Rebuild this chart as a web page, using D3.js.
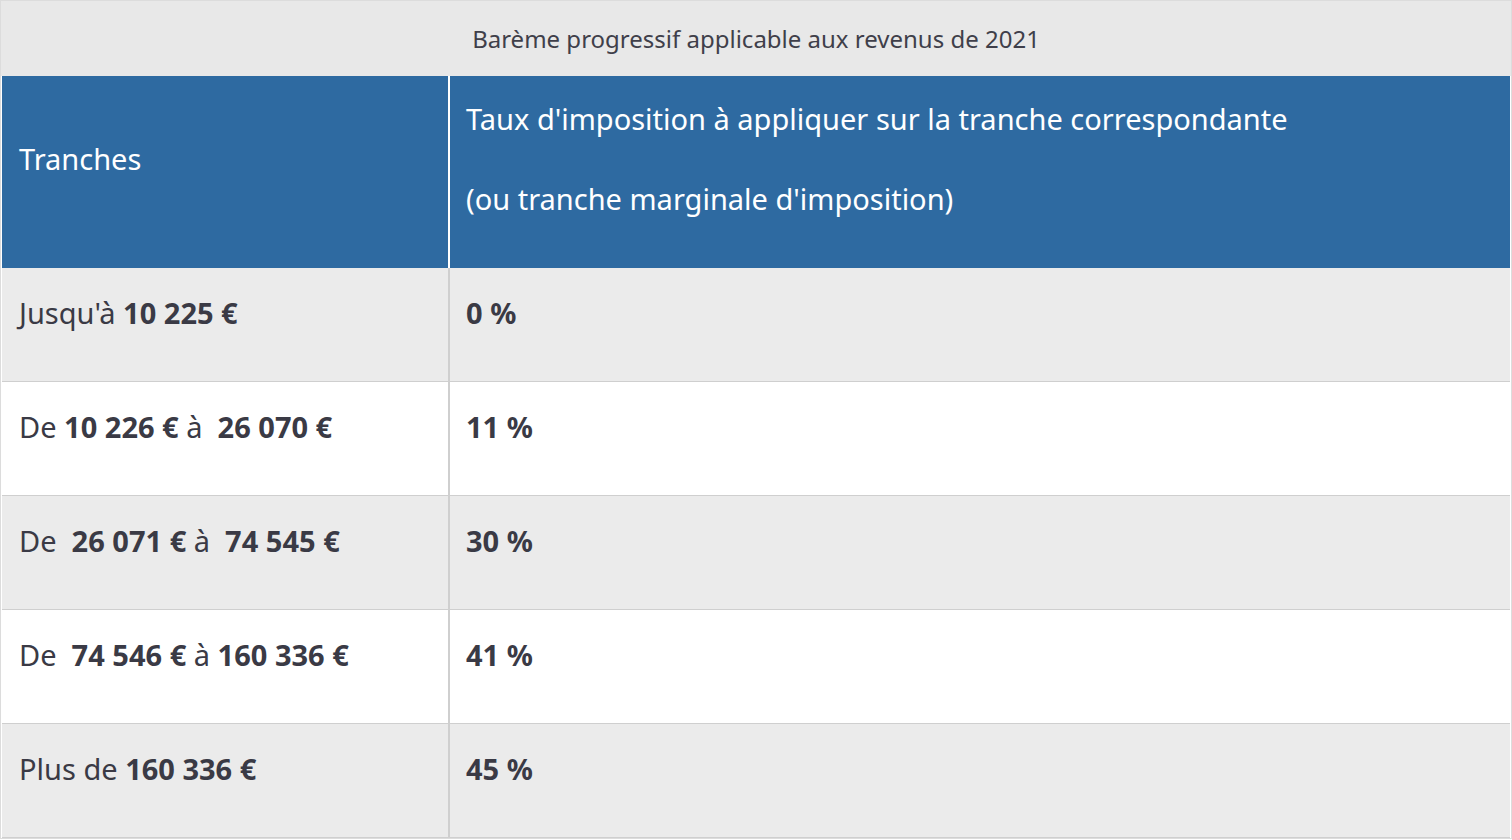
<!DOCTYPE html><html><head><meta charset="utf-8">
<script src="https://cdn.jsdelivr.net/npm/d3@7"></script>
<style>body{margin:0;background:#fff}text{font-family:"Noto Sans",sans-serif}</style></head><body>
<svg id="c" width="1512" height="840"></svg>
<script>
const caption = "Barème progressif applicable aux revenus de 2021";
const headers = [["Tranches"], ["Taux d'imposition à appliquer sur la tranche correspondante", "(ou tranche marginale d'imposition)"]];
// segments: [text, bold]
const tranches = [
  [["Jusqu'à ",0],["10 225 €",1]],
  [["De ",0],["10 226 €",1],[" à  ",0],["26 070 €",1]],
  [["De  ",0],["26 071 €",1],[" à  ",0],["74 545 €",1]],
  [["De  ",0],["74 546 €",1],[" à ",0],["160 336 €",1]],
  [["Plus de ",0],["160 336 €",1]]
];
const taux = ["0 %", "11 %", "30 %", "41 %", "45 %"];

const svg = d3.select("#c");
const W = 1512, colX = 449;
svg.append("rect").attr("x",0).attr("y",0).attr("width",W).attr("height",76).attr("fill","#e8e8e8");
svg.append("text").attr("x",756).attr("y",48).attr("text-anchor","middle").attr("font-size",24).attr("fill","#3f3f4a").text(caption);
svg.append("rect").attr("x",2).attr("y",76).attr("width",W-4).attr("height",192).attr("fill","#2e6aa1");
svg.append("line").attr("x1",colX).attr("x2",colX).attr("y1",76).attr("y2",268).attr("stroke","#fff").attr("stroke-width",2);
svg.append("text").attr("x",19).attr("y",170).attr("font-size",29).attr("fill","#fff").text(headers[0][0]);
headers[1].forEach((t,i)=>svg.append("text").attr("x",466).attr("y",130+i*80).attr("font-size",29).attr("fill","#fff").text(t));

const y = d3.scaleBand().domain(d3.range(tranches.length)).range([268,838]);
const rows = svg.selectAll("g.row").data(tranches).join("g").attr("class","row")
  .attr("transform",(d,i)=>`translate(0,${y(i)})`);
rows.append("rect").attr("x",2).attr("width",W-4).attr("height",y.bandwidth())
  .attr("fill",(d,i)=>i%2===0?"#ebebeb":"#fff");
rows.append("line").attr("x1",2).attr("x2",W-2).attr("y1",y.bandwidth()).attr("y2",y.bandwidth()).attr("stroke","#cfcfcf").attr("stroke-width",2);
rows.append("line").attr("x1",colX).attr("x2",colX).attr("y1",0).attr("y2",y.bandwidth()).attr("stroke","#cfcfcf").attr("stroke-width",2);
const t1 = rows.append("text").attr("x",19).attr("y",56).attr("font-size",29).attr("fill","#3a3a45");
t1.selectAll("tspan").data(d=>d).join("tspan").attr("font-weight",d=>d[1]?700:400)
  .style("white-space","pre").text(d=>d[0]);
rows.append("text").attr("x",466).attr("y",56).attr("font-size",29).attr("font-weight",700).attr("fill","#3a3a45").text((d,i)=>taux[i]);
svg.append("rect").attr("x",0.5).attr("y",0.5).attr("width",W-1).attr("height",838).attr("fill","none").attr("stroke","#dcdcdc");
</script></body></html>
